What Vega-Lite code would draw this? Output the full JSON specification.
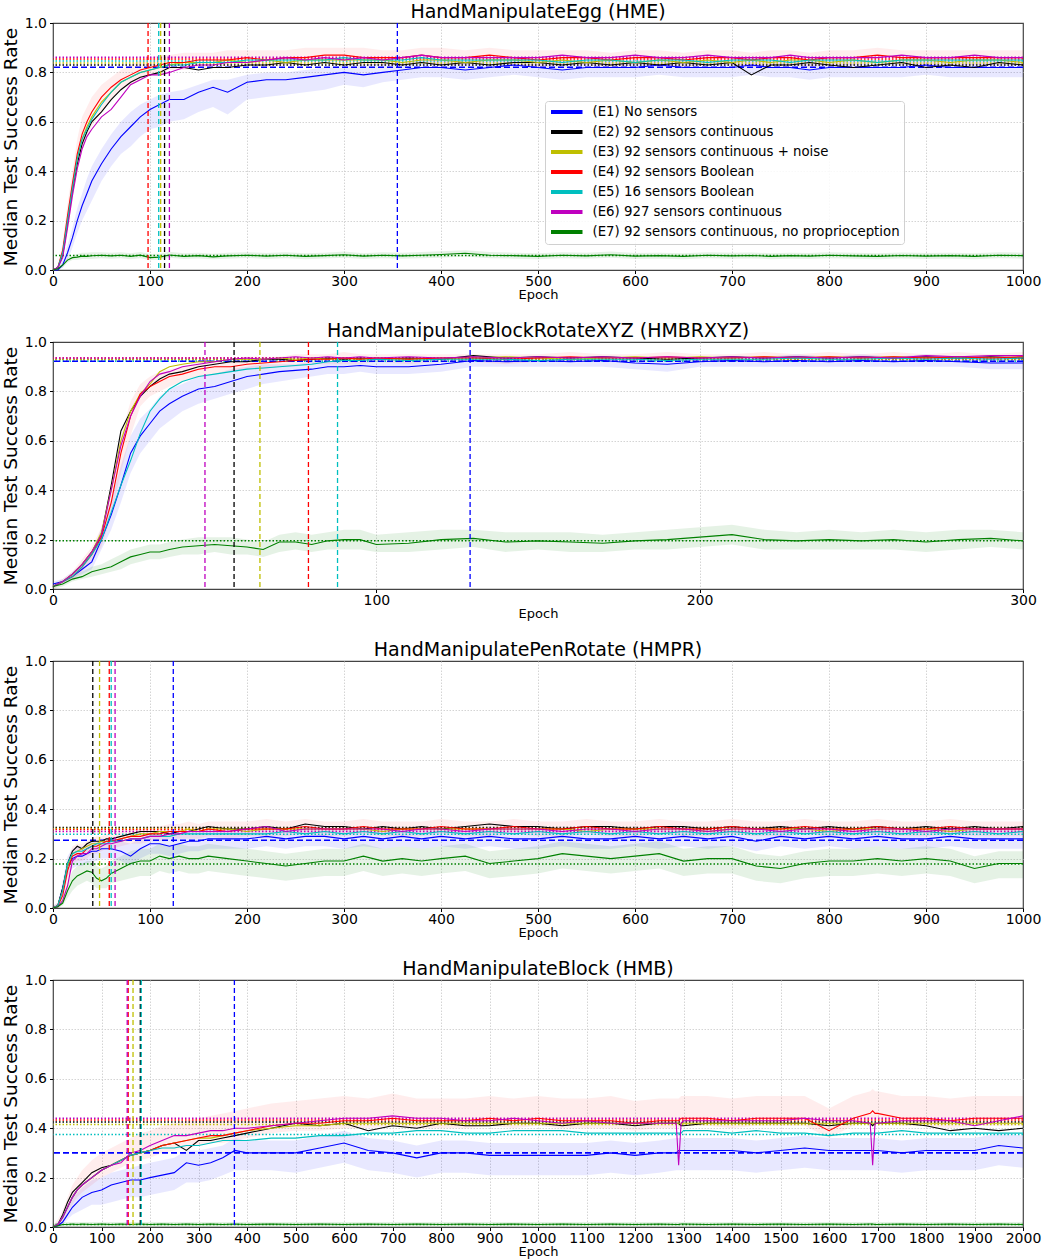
{
  "$schema": "https://vega.github.io/schema/vega-lite/v6.json",
  "background": "white",
  "padding": {"top": 2, "left": 0, "right": 0, "bottom": 0},
  "spacing": 18,
  "config": {
    "font": "DejaVu Sans",
    "view": {"stroke": "#444", "strokeWidth": 1.2},
    "axis": {"domain": false, "grid": true, "gridColor": "#cfcfcf", "gridDash": [1.5, 1.5], "gridWidth": 0.9, "tickColor": "#000", "tickSize": 3.5, "labelColor": "#000", "labelFontSize": 14, "labelFont": "DejaVu Sans", "titleFont": "DejaVu Sans", "titleFontWeight": "normal", "titleColor": "#000"},
    "axisX": {"titleFontSize": 13, "titlePadding": 0, "labelPadding": 1, "labelOverlap": false, "labelFlush": false},
    "axisY": {"titleFontSize": 18.5, "titlePadding": 4, "labelPadding": 3, "gridOpacity": {"condition": {"test": "datum.value == 0 || datum.value == 1", "value": 0}, "value": 1}},
    "title": {"font": "DejaVu Sans", "fontSize": 19, "fontWeight": "normal", "color": "#000", "offset": -6}
  },
  "resolve": {"scale": {"stroke": "independent", "x": "independent"}, "legend": {"stroke": "independent"}},
  "datasets": {
    "hmeR": [
      {"s": "E1", "t": 355, "f": 0.821}, {"s": "E2", "t": 115, "f": 0.83}, {"s": "E3", "t": 111, "f": 0.838}, {"s": "E4", "t": 98, "f": 0.854},
      {"s": "E5", "t": 109, "f": 0.846}, {"s": "E6", "t": 120, "f": 0.861}, {"s": "E7", "f": 0.059}
    ],
    "hmbrR": [
      {"s": "E1", "t": 129, "f": 0.922}, {"s": "E2", "t": 56, "f": 0.929}, {"s": "E3", "t": 64, "f": 0.929}, {"s": "E4", "t": 79, "f": 0.935},
      {"s": "E5", "t": 88, "f": 0.922}, {"s": "E6", "t": 47, "f": 0.935}, {"s": "E7", "f": 0.195}
    ],
    "hmprR": [
      {"s": "E1", "t": 124, "f": 0.274}, {"s": "E2", "t": 41, "f": 0.326}, {"s": "E3", "t": 48, "f": 0.322}, {"s": "E4", "t": 58, "f": 0.318},
      {"s": "E5", "t": 60, "f": 0.299}, {"s": "E6", "t": 64, "f": 0.31}, {"s": "E7", "f": 0.178}
    ],
    "hmbR": [
      {"s": "E1", "t": 374, "f": 0.3}, {"s": "E2", "t": 180, "f": 0.425}, {"s": "E3", "t": 165, "f": 0.415}, {"s": "E4", "t": 155, "f": 0.433},
      {"s": "E5", "t": 182, "f": 0.375}, {"s": "E6", "t": 153, "f": 0.44}, {"s": "E7", "f": 0.01}
    ],
    "hme": [
      {"x": 0, "E1": 0, "E2": 0, "E3": 0, "E4": 0, "E5": 0, "E6": 0, "E7": 0, "l1": 0, "h1": 0, "l4": 0, "h4": 0, "l7": 0, "h7": 0},
      {"x": 5, "E1": 0, "E2": 0.01, "E3": 0.01, "E4": 0.01, "E5": 0.01, "E6": 0.01, "E7": 0.005, "l1": 0, "h1": 0.01, "l4": 0, "h4": 0.02, "l7": 0, "h7": 0.01},
      {"x": 10, "E1": 0.02, "E2": 0.06, "E3": 0.07, "E4": 0.08, "E5": 0.07, "E6": 0.05, "E7": 0.02, "l1": 0.01, "h1": 0.04, "l4": 0.05, "h4": 0.11, "l7": 0.01, "h7": 0.03},
      {"x": 15, "E1": 0.07, "E2": 0.19, "E3": 0.2, "E4": 0.22, "E5": 0.2, "E6": 0.17, "E7": 0.04, "l1": 0.04, "h1": 0.1, "l4": 0.16, "h4": 0.27, "l7": 0.03, "h7": 0.05},
      {"x": 20, "E1": 0.13, "E2": 0.32, "E3": 0.33, "E4": 0.35, "E5": 0.33, "E6": 0.3, "E7": 0.05, "l1": 0.09, "h1": 0.17, "l4": 0.28, "h4": 0.4, "l7": 0.04, "h7": 0.06},
      {"x": 25, "E1": 0.2, "E2": 0.43, "E3": 0.45, "E4": 0.47, "E5": 0.45, "E6": 0.41, "E7": 0.052, "l1": 0.15, "h1": 0.25, "l4": 0.4, "h4": 0.53, "l7": 0.04, "h7": 0.065},
      {"x": 30, "E1": 0.26, "E2": 0.51, "E3": 0.53, "E4": 0.55, "E5": 0.53, "E6": 0.49, "E7": 0.056, "l1": 0.2, "h1": 0.31, "l4": 0.48, "h4": 0.62, "l7": 0.045, "h7": 0.07},
      {"x": 35, "E1": 0.31, "E2": 0.56, "E3": 0.58, "E4": 0.6, "E5": 0.57, "E6": 0.54, "E7": 0.055, "l1": 0.24, "h1": 0.37, "l4": 0.54, "h4": 0.66, "l7": 0.045, "h7": 0.07},
      {"x": 40, "E1": 0.36, "E2": 0.6, "E3": 0.62, "E4": 0.64, "E5": 0.61, "E6": 0.57, "E7": 0.058, "l1": 0.28, "h1": 0.42, "l4": 0.58, "h4": 0.7, "l7": 0.045, "h7": 0.072},
      {"x": 50, "E1": 0.43, "E2": 0.64, "E3": 0.68, "E4": 0.7, "E5": 0.67, "E6": 0.62, "E7": 0.06, "l1": 0.36, "h1": 0.49, "l4": 0.64, "h4": 0.75, "l7": 0.048, "h7": 0.072},
      {"x": 60, "E1": 0.49, "E2": 0.69, "E3": 0.72, "E4": 0.74, "E5": 0.72, "E6": 0.65, "E7": 0.057, "l1": 0.42, "h1": 0.55, "l4": 0.69, "h4": 0.78, "l7": 0.046, "h7": 0.07},
      {"x": 70, "E1": 0.54, "E2": 0.73, "E3": 0.76, "E4": 0.77, "E5": 0.76, "E6": 0.7, "E7": 0.06, "l1": 0.47, "h1": 0.6, "l4": 0.73, "h4": 0.81, "l7": 0.048, "h7": 0.072},
      {"x": 80, "E1": 0.58, "E2": 0.76, "E3": 0.78, "E4": 0.79, "E5": 0.78, "E6": 0.75, "E7": 0.055, "l1": 0.5, "h1": 0.64, "l4": 0.75, "h4": 0.83, "l7": 0.044, "h7": 0.068},
      {"x": 90, "E1": 0.62, "E2": 0.78, "E3": 0.8, "E4": 0.81, "E5": 0.8, "E6": 0.77, "E7": 0.06, "l1": 0.54, "h1": 0.67, "l4": 0.77, "h4": 0.85, "l7": 0.048, "h7": 0.073},
      {"x": 100, "E1": 0.65, "E2": 0.79, "E3": 0.81, "E4": 0.82, "E5": 0.81, "E6": 0.79, "E7": 0.05, "l1": 0.57, "h1": 0.69, "l4": 0.79, "h4": 0.86, "l7": 0.04, "h7": 0.065},
      {"x": 110, "E1": 0.67, "E2": 0.8, "E3": 0.82, "E4": 0.83, "E5": 0.82, "E6": 0.79, "E7": 0.052, "l1": 0.58, "h1": 0.71, "l4": 0.8, "h4": 0.87, "l7": 0.042, "h7": 0.066},
      {"x": 120, "E1": 0.69, "E2": 0.82, "E3": 0.83, "E4": 0.84, "E5": 0.83, "E6": 0.8, "E7": 0.061, "l1": 0.6, "h1": 0.72, "l4": 0.81, "h4": 0.87, "l7": 0.05, "h7": 0.074},
      {"x": 135, "E1": 0.69, "E2": 0.82, "E3": 0.84, "E4": 0.84, "E5": 0.83, "E6": 0.82, "E7": 0.055, "l1": 0.61, "h1": 0.73, "l4": 0.81, "h4": 0.88, "l7": 0.045, "h7": 0.068},
      {"x": 150, "E1": 0.72, "E2": 0.81, "E3": 0.84, "E4": 0.85, "E5": 0.84, "E6": 0.83, "E7": 0.058, "l1": 0.64, "h1": 0.75, "l4": 0.82, "h4": 0.88, "l7": 0.047, "h7": 0.07},
      {"x": 165, "E1": 0.74, "E2": 0.82, "E3": 0.84, "E4": 0.85, "E5": 0.84, "E6": 0.83, "E7": 0.053, "l1": 0.66, "h1": 0.77, "l4": 0.82, "h4": 0.88, "l7": 0.044, "h7": 0.066},
      {"x": 180, "E1": 0.72, "E2": 0.82, "E3": 0.85, "E4": 0.85, "E5": 0.84, "E6": 0.84, "E7": 0.057, "l1": 0.63, "h1": 0.77, "l4": 0.82, "h4": 0.89, "l7": 0.046, "h7": 0.07},
      {"x": 200, "E1": 0.76, "E2": 0.83, "E3": 0.84, "E4": 0.86, "E5": 0.85, "E6": 0.84, "E7": 0.06, "l1": 0.69, "h1": 0.79, "l4": 0.83, "h4": 0.89, "l7": 0.049, "h7": 0.072},
      {"x": 220, "E1": 0.77, "E2": 0.83, "E3": 0.85, "E4": 0.85, "E5": 0.85, "E6": 0.85, "E7": 0.056, "l1": 0.7, "h1": 0.8, "l4": 0.82, "h4": 0.89, "l7": 0.045, "h7": 0.069},
      {"x": 240, "E1": 0.77, "E2": 0.84, "E3": 0.84, "E4": 0.86, "E5": 0.85, "E6": 0.86, "E7": 0.06, "l1": 0.71, "h1": 0.8, "l4": 0.83, "h4": 0.89, "l7": 0.048, "h7": 0.072},
      {"x": 260, "E1": 0.78, "E2": 0.83, "E3": 0.85, "E4": 0.86, "E5": 0.85, "E6": 0.85, "E7": 0.055, "l1": 0.72, "h1": 0.81, "l4": 0.83, "h4": 0.9, "l7": 0.044, "h7": 0.068},
      {"x": 280, "E1": 0.79, "E2": 0.84, "E3": 0.85, "E4": 0.87, "E5": 0.85, "E6": 0.86, "E7": 0.058, "l1": 0.73, "h1": 0.82, "l4": 0.84, "h4": 0.9, "l7": 0.047, "h7": 0.07},
      {"x": 300, "E1": 0.8, "E2": 0.83, "E3": 0.85, "E4": 0.87, "E5": 0.86, "E6": 0.85, "E7": 0.062, "l1": 0.75, "h1": 0.83, "l4": 0.84, "h4": 0.9, "l7": 0.05, "h7": 0.075},
      {"x": 320, "E1": 0.79, "E2": 0.84, "E3": 0.85, "E4": 0.86, "E5": 0.85, "E6": 0.86, "E7": 0.056, "l1": 0.74, "h1": 0.83, "l4": 0.83, "h4": 0.9, "l7": 0.045, "h7": 0.068},
      {"x": 340, "E1": 0.8, "E2": 0.84, "E3": 0.85, "E4": 0.86, "E5": 0.85, "E6": 0.85, "E7": 0.06, "l1": 0.76, "h1": 0.84, "l4": 0.83, "h4": 0.89, "l7": 0.048, "h7": 0.072},
      {"x": 360, "E1": 0.81, "E2": 0.83, "E3": 0.84, "E4": 0.86, "E5": 0.85, "E6": 0.86, "E7": 0.057, "l1": 0.77, "h1": 0.84, "l4": 0.83, "h4": 0.89, "l7": 0.046, "h7": 0.07},
      {"x": 380, "E1": 0.82, "E2": 0.84, "E3": 0.85, "E4": 0.87, "E5": 0.86, "E6": 0.87, "E7": 0.06, "l1": 0.78, "h1": 0.85, "l4": 0.84, "h4": 0.9, "l7": 0.048, "h7": 0.073},
      {"x": 400, "E1": 0.82, "E2": 0.83, "E3": 0.85, "E4": 0.86, "E5": 0.85, "E6": 0.86, "E7": 0.063, "l1": 0.78, "h1": 0.85, "l4": 0.83, "h4": 0.9, "l7": 0.05, "h7": 0.076},
      {"x": 425, "E1": 0.81, "E2": 0.84, "E3": 0.84, "E4": 0.86, "E5": 0.85, "E6": 0.86, "E7": 0.068, "l1": 0.77, "h1": 0.85, "l4": 0.83, "h4": 0.89, "l7": 0.055, "h7": 0.08},
      {"x": 450, "E1": 0.82, "E2": 0.83, "E3": 0.85, "E4": 0.87, "E5": 0.85, "E6": 0.86, "E7": 0.06, "l1": 0.78, "h1": 0.85, "l4": 0.84, "h4": 0.9, "l7": 0.048, "h7": 0.073},
      {"x": 475, "E1": 0.83, "E2": 0.84, "E3": 0.85, "E4": 0.86, "E5": 0.85, "E6": 0.86, "E7": 0.058, "l1": 0.79, "h1": 0.86, "l4": 0.83, "h4": 0.89, "l7": 0.046, "h7": 0.07},
      {"x": 500, "E1": 0.82, "E2": 0.84, "E3": 0.84, "E4": 0.85, "E5": 0.85, "E6": 0.86, "E7": 0.055, "l1": 0.78, "h1": 0.85, "l4": 0.82, "h4": 0.89, "l7": 0.044, "h7": 0.068},
      {"x": 525, "E1": 0.81, "E2": 0.83, "E3": 0.85, "E4": 0.86, "E5": 0.84, "E6": 0.87, "E7": 0.06, "l1": 0.77, "h1": 0.85, "l4": 0.83, "h4": 0.89, "l7": 0.048, "h7": 0.072},
      {"x": 550, "E1": 0.82, "E2": 0.84, "E3": 0.84, "E4": 0.86, "E5": 0.85, "E6": 0.86, "E7": 0.057, "l1": 0.78, "h1": 0.85, "l4": 0.83, "h4": 0.89, "l7": 0.046, "h7": 0.07},
      {"x": 575, "E1": 0.82, "E2": 0.83, "E3": 0.85, "E4": 0.85, "E5": 0.85, "E6": 0.86, "E7": 0.062, "l1": 0.78, "h1": 0.85, "l4": 0.82, "h4": 0.88, "l7": 0.05, "h7": 0.075},
      {"x": 600, "E1": 0.82, "E2": 0.84, "E3": 0.84, "E4": 0.86, "E5": 0.84, "E6": 0.87, "E7": 0.056, "l1": 0.78, "h1": 0.85, "l4": 0.83, "h4": 0.89, "l7": 0.045, "h7": 0.069},
      {"x": 625, "E1": 0.83, "E2": 0.83, "E3": 0.85, "E4": 0.86, "E5": 0.85, "E6": 0.86, "E7": 0.058, "l1": 0.79, "h1": 0.86, "l4": 0.83, "h4": 0.89, "l7": 0.046, "h7": 0.07},
      {"x": 650, "E1": 0.82, "E2": 0.84, "E3": 0.84, "E4": 0.85, "E5": 0.85, "E6": 0.86, "E7": 0.055, "l1": 0.78, "h1": 0.85, "l4": 0.82, "h4": 0.88, "l7": 0.044, "h7": 0.068},
      {"x": 675, "E1": 0.82, "E2": 0.83, "E3": 0.85, "E4": 0.86, "E5": 0.84, "E6": 0.87, "E7": 0.06, "l1": 0.78, "h1": 0.85, "l4": 0.83, "h4": 0.89, "l7": 0.048, "h7": 0.072},
      {"x": 700, "E1": 0.82, "E2": 0.84, "E3": 0.84, "E4": 0.86, "E5": 0.85, "E6": 0.86, "E7": 0.057, "l1": 0.78, "h1": 0.85, "l4": 0.83, "h4": 0.89, "l7": 0.046, "h7": 0.07},
      {"x": 720, "E1": 0.83, "E2": 0.79, "E3": 0.85, "E4": 0.85, "E5": 0.85, "E6": 0.86, "E7": 0.059, "l1": 0.79, "h1": 0.86, "l4": 0.82, "h4": 0.88, "l7": 0.047, "h7": 0.071},
      {"x": 740, "E1": 0.82, "E2": 0.83, "E3": 0.84, "E4": 0.86, "E5": 0.85, "E6": 0.86, "E7": 0.055, "l1": 0.78, "h1": 0.85, "l4": 0.83, "h4": 0.89, "l7": 0.044, "h7": 0.068},
      {"x": 760, "E1": 0.82, "E2": 0.83, "E3": 0.85, "E4": 0.86, "E5": 0.84, "E6": 0.87, "E7": 0.058, "l1": 0.78, "h1": 0.85, "l4": 0.83, "h4": 0.89, "l7": 0.046, "h7": 0.07},
      {"x": 780, "E1": 0.81, "E2": 0.84, "E3": 0.85, "E4": 0.85, "E5": 0.85, "E6": 0.86, "E7": 0.056, "l1": 0.77, "h1": 0.85, "l4": 0.82, "h4": 0.88, "l7": 0.045, "h7": 0.069},
      {"x": 800, "E1": 0.82, "E2": 0.83, "E3": 0.84, "E4": 0.86, "E5": 0.85, "E6": 0.86, "E7": 0.06, "l1": 0.78, "h1": 0.85, "l4": 0.83, "h4": 0.89, "l7": 0.048, "h7": 0.072},
      {"x": 825, "E1": 0.82, "E2": 0.82, "E3": 0.85, "E4": 0.86, "E5": 0.85, "E6": 0.86, "E7": 0.057, "l1": 0.78, "h1": 0.85, "l4": 0.83, "h4": 0.89, "l7": 0.046, "h7": 0.07},
      {"x": 850, "E1": 0.82, "E2": 0.83, "E3": 0.84, "E4": 0.87, "E5": 0.84, "E6": 0.86, "E7": 0.055, "l1": 0.78, "h1": 0.85, "l4": 0.84, "h4": 0.9, "l7": 0.044, "h7": 0.068},
      {"x": 875, "E1": 0.82, "E2": 0.84, "E3": 0.85, "E4": 0.86, "E5": 0.85, "E6": 0.87, "E7": 0.059, "l1": 0.78, "h1": 0.85, "l4": 0.83, "h4": 0.89, "l7": 0.047, "h7": 0.071},
      {"x": 900, "E1": 0.83, "E2": 0.82, "E3": 0.85, "E4": 0.86, "E5": 0.85, "E6": 0.86, "E7": 0.056, "l1": 0.79, "h1": 0.86, "l4": 0.83, "h4": 0.89, "l7": 0.045, "h7": 0.069},
      {"x": 925, "E1": 0.82, "E2": 0.83, "E3": 0.84, "E4": 0.86, "E5": 0.85, "E6": 0.86, "E7": 0.058, "l1": 0.78, "h1": 0.85, "l4": 0.83, "h4": 0.89, "l7": 0.046, "h7": 0.07},
      {"x": 950, "E1": 0.82, "E2": 0.82, "E3": 0.85, "E4": 0.86, "E5": 0.85, "E6": 0.87, "E7": 0.055, "l1": 0.78, "h1": 0.85, "l4": 0.83, "h4": 0.89, "l7": 0.044, "h7": 0.068},
      {"x": 975, "E1": 0.82, "E2": 0.84, "E3": 0.85, "E4": 0.86, "E5": 0.85, "E6": 0.86, "E7": 0.06, "l1": 0.78, "h1": 0.85, "l4": 0.83, "h4": 0.89, "l7": 0.048, "h7": 0.072},
      {"x": 1000, "E1": 0.82, "E2": 0.83, "E3": 0.84, "E4": 0.86, "E5": 0.85, "E6": 0.86, "E7": 0.058, "l1": 0.78, "h1": 0.85, "l4": 0.83, "h4": 0.89, "l7": 0.046, "h7": 0.07}
    ],
    "hmbr": [
      {"x": 0, "E1": 0.02, "E2": 0.01, "E3": 0.01, "E4": 0.01, "E5": 0.01, "E6": 0.01, "E7": 0.01, "l1": 0.01, "h1": 0.03, "l4": 0, "h4": 0.02, "l7": 0, "h7": 0.02},
      {"x": 3, "E1": 0.03, "E2": 0.03, "E3": 0.03, "E4": 0.03, "E5": 0.03, "E6": 0.03, "E7": 0.02, "l1": 0.02, "h1": 0.04, "l4": 0.02, "h4": 0.04, "l7": 0.01, "h7": 0.03},
      {"x": 6, "E1": 0.05, "E2": 0.06, "E3": 0.06, "E4": 0.05, "E5": 0.05, "E6": 0.06, "E7": 0.04, "l1": 0.04, "h1": 0.07, "l4": 0.04, "h4": 0.07, "l7": 0.03, "h7": 0.05},
      {"x": 9, "E1": 0.08, "E2": 0.1, "E3": 0.1, "E4": 0.09, "E5": 0.09, "E6": 0.1, "E7": 0.05, "l1": 0.06, "h1": 0.1, "l4": 0.07, "h4": 0.12, "l7": 0.04, "h7": 0.07},
      {"x": 12, "E1": 0.11, "E2": 0.15, "E3": 0.15, "E4": 0.14, "E5": 0.14, "E6": 0.15, "E7": 0.07, "l1": 0.08, "h1": 0.14, "l4": 0.11, "h4": 0.17, "l7": 0.05, "h7": 0.09},
      {"x": 15, "E1": 0.2, "E2": 0.22, "E3": 0.23, "E4": 0.21, "E5": 0.2, "E6": 0.22, "E7": 0.08, "l1": 0.16, "h1": 0.25, "l4": 0.17, "h4": 0.25, "l7": 0.06, "h7": 0.1},
      {"x": 18, "E1": 0.3, "E2": 0.42, "E3": 0.4, "E4": 0.35, "E5": 0.31, "E6": 0.4, "E7": 0.09, "l1": 0.24, "h1": 0.36, "l4": 0.3, "h4": 0.42, "l7": 0.07, "h7": 0.12},
      {"x": 21, "E1": 0.42, "E2": 0.64, "E3": 0.6, "E4": 0.55, "E5": 0.42, "E6": 0.58, "E7": 0.11, "l1": 0.35, "h1": 0.5, "l4": 0.47, "h4": 0.62, "l7": 0.08, "h7": 0.14},
      {"x": 24, "E1": 0.55, "E2": 0.72, "E3": 0.72, "E4": 0.7, "E5": 0.52, "E6": 0.7, "E7": 0.13, "l1": 0.47, "h1": 0.62, "l4": 0.62, "h4": 0.76, "l7": 0.1, "h7": 0.16},
      {"x": 27, "E1": 0.62, "E2": 0.78, "E3": 0.79, "E4": 0.79, "E5": 0.63, "E6": 0.78, "E7": 0.14, "l1": 0.55, "h1": 0.69, "l4": 0.74, "h4": 0.83, "l7": 0.11, "h7": 0.17},
      {"x": 30, "E1": 0.67, "E2": 0.82, "E3": 0.83, "E4": 0.82, "E5": 0.72, "E6": 0.84, "E7": 0.15, "l1": 0.6, "h1": 0.73, "l4": 0.78, "h4": 0.86, "l7": 0.12, "h7": 0.18},
      {"x": 33, "E1": 0.72, "E2": 0.85, "E3": 0.88, "E4": 0.84, "E5": 0.77, "E6": 0.87, "E7": 0.15, "l1": 0.65, "h1": 0.78, "l4": 0.8, "h4": 0.88, "l7": 0.12, "h7": 0.18},
      {"x": 36, "E1": 0.75, "E2": 0.87, "E3": 0.9, "E4": 0.86, "E5": 0.81, "E6": 0.88, "E7": 0.16, "l1": 0.68, "h1": 0.81, "l4": 0.82, "h4": 0.89, "l7": 0.13, "h7": 0.19},
      {"x": 40, "E1": 0.78, "E2": 0.88, "E3": 0.91, "E4": 0.87, "E5": 0.84, "E6": 0.9, "E7": 0.17, "l1": 0.72, "h1": 0.83, "l4": 0.84, "h4": 0.9, "l7": 0.14, "h7": 0.2},
      {"x": 45, "E1": 0.81, "E2": 0.9, "E3": 0.92, "E4": 0.89, "E5": 0.86, "E6": 0.91, "E7": 0.175, "l1": 0.75, "h1": 0.86, "l4": 0.86, "h4": 0.92, "l7": 0.14, "h7": 0.21},
      {"x": 50, "E1": 0.82, "E2": 0.91, "E3": 0.92, "E4": 0.9, "E5": 0.87, "E6": 0.92, "E7": 0.18, "l1": 0.77, "h1": 0.87, "l4": 0.87, "h4": 0.92, "l7": 0.15, "h7": 0.21},
      {"x": 55, "E1": 0.84, "E2": 0.92, "E3": 0.93, "E4": 0.9, "E5": 0.88, "E6": 0.93, "E7": 0.175, "l1": 0.79, "h1": 0.89, "l4": 0.88, "h4": 0.93, "l7": 0.14, "h7": 0.21},
      {"x": 60, "E1": 0.86, "E2": 0.92, "E3": 0.93, "E4": 0.91, "E5": 0.89, "E6": 0.935, "E7": 0.17, "l1": 0.81, "h1": 0.9, "l4": 0.89, "h4": 0.94, "l7": 0.14, "h7": 0.2},
      {"x": 65, "E1": 0.87, "E2": 0.93, "E3": 0.93, "E4": 0.915, "E5": 0.895, "E6": 0.93, "E7": 0.16, "l1": 0.83, "h1": 0.91, "l4": 0.89, "h4": 0.94, "l7": 0.13, "h7": 0.19},
      {"x": 70, "E1": 0.88, "E2": 0.93, "E3": 0.935, "E4": 0.92, "E5": 0.9, "E6": 0.935, "E7": 0.19, "l1": 0.84, "h1": 0.91, "l4": 0.9, "h4": 0.94, "l7": 0.15, "h7": 0.22},
      {"x": 75, "E1": 0.885, "E2": 0.925, "E3": 0.93, "E4": 0.925, "E5": 0.905, "E6": 0.94, "E7": 0.19, "l1": 0.85, "h1": 0.91, "l4": 0.9, "h4": 0.95, "l7": 0.16, "h7": 0.23},
      {"x": 80, "E1": 0.89, "E2": 0.93, "E3": 0.935, "E4": 0.93, "E5": 0.91, "E6": 0.935, "E7": 0.18, "l1": 0.86, "h1": 0.92, "l4": 0.91, "h4": 0.95, "l7": 0.15, "h7": 0.22},
      {"x": 85, "E1": 0.9, "E2": 0.935, "E3": 0.93, "E4": 0.93, "E5": 0.92, "E6": 0.94, "E7": 0.195, "l1": 0.87, "h1": 0.92, "l4": 0.91, "h4": 0.95, "l7": 0.16, "h7": 0.23},
      {"x": 90, "E1": 0.9, "E2": 0.93, "E3": 0.935, "E4": 0.935, "E5": 0.925, "E6": 0.935, "E7": 0.2, "l1": 0.87, "h1": 0.92, "l4": 0.91, "h4": 0.96, "l7": 0.16, "h7": 0.24},
      {"x": 95, "E1": 0.905, "E2": 0.935, "E3": 0.93, "E4": 0.93, "E5": 0.925, "E6": 0.94, "E7": 0.2, "l1": 0.88, "h1": 0.93, "l4": 0.91, "h4": 0.95, "l7": 0.16, "h7": 0.24},
      {"x": 100, "E1": 0.9, "E2": 0.93, "E3": 0.935, "E4": 0.935, "E5": 0.93, "E6": 0.935, "E7": 0.18, "l1": 0.87, "h1": 0.92, "l4": 0.92, "h4": 0.95, "l7": 0.15, "h7": 0.22},
      {"x": 110, "E1": 0.9, "E2": 0.935, "E3": 0.93, "E4": 0.93, "E5": 0.925, "E6": 0.94, "E7": 0.185, "l1": 0.87, "h1": 0.93, "l4": 0.91, "h4": 0.95, "l7": 0.15, "h7": 0.23},
      {"x": 120, "E1": 0.91, "E2": 0.93, "E3": 0.935, "E4": 0.935, "E5": 0.93, "E6": 0.935, "E7": 0.2, "l1": 0.88, "h1": 0.92, "l4": 0.92, "h4": 0.95, "l7": 0.16, "h7": 0.24},
      {"x": 130, "E1": 0.925, "E2": 0.945, "E3": 0.935, "E4": 0.935, "E5": 0.93, "E6": 0.94, "E7": 0.205, "l1": 0.9, "h1": 0.94, "l4": 0.92, "h4": 0.95, "l7": 0.17, "h7": 0.24},
      {"x": 140, "E1": 0.92, "E2": 0.935, "E3": 0.94, "E4": 0.93, "E5": 0.93, "E6": 0.935, "E7": 0.19, "l1": 0.9, "h1": 0.94, "l4": 0.91, "h4": 0.95, "l7": 0.15, "h7": 0.23},
      {"x": 150, "E1": 0.925, "E2": 0.94, "E3": 0.935, "E4": 0.935, "E5": 0.925, "E6": 0.94, "E7": 0.195, "l1": 0.9, "h1": 0.94, "l4": 0.92, "h4": 0.95, "l7": 0.16, "h7": 0.23},
      {"x": 160, "E1": 0.92, "E2": 0.935, "E3": 0.93, "E4": 0.94, "E5": 0.93, "E6": 0.935, "E7": 0.19, "l1": 0.9, "h1": 0.94, "l4": 0.92, "h4": 0.96, "l7": 0.15, "h7": 0.23},
      {"x": 170, "E1": 0.925, "E2": 0.94, "E3": 0.935, "E4": 0.935, "E5": 0.93, "E6": 0.94, "E7": 0.185, "l1": 0.9, "h1": 0.94, "l4": 0.92, "h4": 0.95, "l7": 0.15, "h7": 0.22},
      {"x": 180, "E1": 0.915, "E2": 0.935, "E3": 0.94, "E4": 0.935, "E5": 0.93, "E6": 0.935, "E7": 0.195, "l1": 0.89, "h1": 0.94, "l4": 0.92, "h4": 0.95, "l7": 0.16, "h7": 0.23},
      {"x": 190, "E1": 0.91, "E2": 0.93, "E3": 0.935, "E4": 0.94, "E5": 0.925, "E6": 0.94, "E7": 0.2, "l1": 0.88, "h1": 0.93, "l4": 0.92, "h4": 0.96, "l7": 0.16, "h7": 0.24},
      {"x": 200, "E1": 0.92, "E2": 0.935, "E3": 0.94, "E4": 0.935, "E5": 0.93, "E6": 0.935, "E7": 0.21, "l1": 0.9, "h1": 0.94, "l4": 0.92, "h4": 0.95, "l7": 0.17, "h7": 0.25},
      {"x": 210, "E1": 0.925, "E2": 0.94, "E3": 0.935, "E4": 0.935, "E5": 0.93, "E6": 0.94, "E7": 0.22, "l1": 0.9, "h1": 0.94, "l4": 0.92, "h4": 0.95, "l7": 0.18, "h7": 0.26},
      {"x": 220, "E1": 0.92, "E2": 0.935, "E3": 0.94, "E4": 0.94, "E5": 0.93, "E6": 0.935, "E7": 0.2, "l1": 0.9, "h1": 0.94, "l4": 0.92, "h4": 0.96, "l7": 0.16, "h7": 0.24},
      {"x": 230, "E1": 0.925, "E2": 0.94, "E3": 0.935, "E4": 0.935, "E5": 0.935, "E6": 0.94, "E7": 0.195, "l1": 0.9, "h1": 0.95, "l4": 0.92, "h4": 0.95, "l7": 0.16, "h7": 0.23},
      {"x": 240, "E1": 0.92, "E2": 0.935, "E3": 0.94, "E4": 0.94, "E5": 0.93, "E6": 0.935, "E7": 0.2, "l1": 0.9, "h1": 0.94, "l4": 0.92, "h4": 0.96, "l7": 0.16, "h7": 0.24},
      {"x": 250, "E1": 0.925, "E2": 0.94, "E3": 0.935, "E4": 0.935, "E5": 0.93, "E6": 0.94, "E7": 0.195, "l1": 0.9, "h1": 0.95, "l4": 0.92, "h4": 0.95, "l7": 0.16, "h7": 0.23},
      {"x": 260, "E1": 0.92, "E2": 0.935, "E3": 0.94, "E4": 0.94, "E5": 0.935, "E6": 0.935, "E7": 0.2, "l1": 0.9, "h1": 0.94, "l4": 0.92, "h4": 0.96, "l7": 0.16, "h7": 0.24},
      {"x": 270, "E1": 0.925, "E2": 0.94, "E3": 0.935, "E4": 0.935, "E5": 0.93, "E6": 0.945, "E7": 0.19, "l1": 0.9, "h1": 0.95, "l4": 0.92, "h4": 0.95, "l7": 0.15, "h7": 0.23},
      {"x": 280, "E1": 0.92, "E2": 0.935, "E3": 0.94, "E4": 0.94, "E5": 0.935, "E6": 0.94, "E7": 0.2, "l1": 0.9, "h1": 0.94, "l4": 0.92, "h4": 0.96, "l7": 0.16, "h7": 0.24},
      {"x": 290, "E1": 0.915, "E2": 0.94, "E3": 0.935, "E4": 0.935, "E5": 0.93, "E6": 0.945, "E7": 0.205, "l1": 0.89, "h1": 0.94, "l4": 0.92, "h4": 0.95, "l7": 0.17, "h7": 0.24},
      {"x": 300, "E1": 0.915, "E2": 0.935, "E3": 0.94, "E4": 0.94, "E5": 0.935, "E6": 0.945, "E7": 0.195, "l1": 0.89, "h1": 0.94, "l4": 0.92, "h4": 0.96, "l7": 0.16, "h7": 0.23}
    ],
    "hmpr": [
      {"x": 0, "E1": 0, "E2": 0, "E3": 0, "E4": 0, "E5": 0, "E6": 0, "E7": 0, "l1": 0, "h1": 0.01, "l4": 0, "h4": 0.01, "l7": 0, "h7": 0.01},
      {"x": 5, "E1": 0.01, "E2": 0.01, "E3": 0.01, "E4": 0.01, "E5": 0.01, "E6": 0.005, "E7": 0.005, "l1": 0, "h1": 0.02, "l4": 0, "h4": 0.02, "l7": 0, "h7": 0.01},
      {"x": 10, "E1": 0.08, "E2": 0.08, "E3": 0.07, "E4": 0.05, "E5": 0.07, "E6": 0.03, "E7": 0.02, "l1": 0.05, "h1": 0.11, "l4": 0.03, "h4": 0.08, "l7": 0.01, "h7": 0.04},
      {"x": 15, "E1": 0.17, "E2": 0.18, "E3": 0.17, "E4": 0.15, "E5": 0.18, "E6": 0.09, "E7": 0.07, "l1": 0.13, "h1": 0.21, "l4": 0.11, "h4": 0.19, "l7": 0.04, "h7": 0.1},
      {"x": 20, "E1": 0.2, "E2": 0.23, "E3": 0.22, "E4": 0.21, "E5": 0.22, "E6": 0.19, "E7": 0.11, "l1": 0.16, "h1": 0.24, "l4": 0.18, "h4": 0.25, "l7": 0.07, "h7": 0.15},
      {"x": 25, "E1": 0.21, "E2": 0.25, "E3": 0.23, "E4": 0.22, "E5": 0.23, "E6": 0.21, "E7": 0.13, "l1": 0.17, "h1": 0.25, "l4": 0.19, "h4": 0.26, "l7": 0.09, "h7": 0.17},
      {"x": 30, "E1": 0.21, "E2": 0.24, "E3": 0.24, "E4": 0.22, "E5": 0.23, "E6": 0.22, "E7": 0.14, "l1": 0.17, "h1": 0.25, "l4": 0.19, "h4": 0.26, "l7": 0.1, "h7": 0.18},
      {"x": 35, "E1": 0.22, "E2": 0.26, "E3": 0.25, "E4": 0.24, "E5": 0.24, "E6": 0.22, "E7": 0.15, "l1": 0.18, "h1": 0.26, "l4": 0.2, "h4": 0.27, "l7": 0.11, "h7": 0.19},
      {"x": 40, "E1": 0.23, "E2": 0.27, "E3": 0.26, "E4": 0.25, "E5": 0.25, "E6": 0.24, "E7": 0.145, "l1": 0.19, "h1": 0.27, "l4": 0.22, "h4": 0.28, "l7": 0.1, "h7": 0.19},
      {"x": 45, "E1": 0.23, "E2": 0.27, "E3": 0.26, "E4": 0.25, "E5": 0.26, "E6": 0.24, "E7": 0.12, "l1": 0.19, "h1": 0.27, "l4": 0.22, "h4": 0.29, "l7": 0.08, "h7": 0.17},
      {"x": 50, "E1": 0.24, "E2": 0.27, "E3": 0.27, "E4": 0.26, "E5": 0.26, "E6": 0.25, "E7": 0.11, "l1": 0.2, "h1": 0.28, "l4": 0.23, "h4": 0.29, "l7": 0.08, "h7": 0.16},
      {"x": 55, "E1": 0.24, "E2": 0.28, "E3": 0.27, "E4": 0.27, "E5": 0.26, "E6": 0.26, "E7": 0.12, "l1": 0.2, "h1": 0.28, "l4": 0.24, "h4": 0.3, "l7": 0.08, "h7": 0.17},
      {"x": 60, "E1": 0.24, "E2": 0.28, "E3": 0.27, "E4": 0.27, "E5": 0.27, "E6": 0.26, "E7": 0.14, "l1": 0.2, "h1": 0.28, "l4": 0.24, "h4": 0.3, "l7": 0.1, "h7": 0.19},
      {"x": 70, "E1": 0.23, "E2": 0.29, "E3": 0.28, "E4": 0.28, "E5": 0.27, "E6": 0.27, "E7": 0.16, "l1": 0.19, "h1": 0.27, "l4": 0.25, "h4": 0.31, "l7": 0.11, "h7": 0.21},
      {"x": 80, "E1": 0.21, "E2": 0.3, "E3": 0.29, "E4": 0.29, "E5": 0.28, "E6": 0.28, "E7": 0.18, "l1": 0.17, "h1": 0.26, "l4": 0.26, "h4": 0.32, "l7": 0.12, "h7": 0.23},
      {"x": 90, "E1": 0.24, "E2": 0.31, "E3": 0.3, "E4": 0.29, "E5": 0.28, "E6": 0.28, "E7": 0.19, "l1": 0.2, "h1": 0.28, "l4": 0.26, "h4": 0.32, "l7": 0.13, "h7": 0.24},
      {"x": 100, "E1": 0.26, "E2": 0.31, "E3": 0.3, "E4": 0.3, "E5": 0.29, "E6": 0.29, "E7": 0.19, "l1": 0.22, "h1": 0.3, "l4": 0.27, "h4": 0.33, "l7": 0.13, "h7": 0.24},
      {"x": 110, "E1": 0.26, "E2": 0.31, "E3": 0.31, "E4": 0.3, "E5": 0.29, "E6": 0.29, "E7": 0.21, "l1": 0.22, "h1": 0.3, "l4": 0.27, "h4": 0.33, "l7": 0.15, "h7": 0.26},
      {"x": 120, "E1": 0.25, "E2": 0.3, "E3": 0.31, "E4": 0.31, "E5": 0.29, "E6": 0.3, "E7": 0.2, "l1": 0.21, "h1": 0.29, "l4": 0.28, "h4": 0.34, "l7": 0.14, "h7": 0.25},
      {"x": 130, "E1": 0.26, "E2": 0.31, "E3": 0.31, "E4": 0.31, "E5": 0.3, "E6": 0.3, "E7": 0.21, "l1": 0.22, "h1": 0.3, "l4": 0.28, "h4": 0.34, "l7": 0.15, "h7": 0.26},
      {"x": 140, "E1": 0.27, "E2": 0.31, "E3": 0.32, "E4": 0.31, "E5": 0.3, "E6": 0.31, "E7": 0.2, "l1": 0.23, "h1": 0.31, "l4": 0.28, "h4": 0.35, "l7": 0.14, "h7": 0.25},
      {"x": 150, "E1": 0.27, "E2": 0.32, "E3": 0.31, "E4": 0.31, "E5": 0.3, "E6": 0.31, "E7": 0.2, "l1": 0.23, "h1": 0.31, "l4": 0.28, "h4": 0.34, "l7": 0.14, "h7": 0.25},
      {"x": 160, "E1": 0.28, "E2": 0.33, "E3": 0.32, "E4": 0.32, "E5": 0.3, "E6": 0.31, "E7": 0.21, "l1": 0.24, "h1": 0.32, "l4": 0.29, "h4": 0.35, "l7": 0.15, "h7": 0.26},
      {"x": 180, "E1": 0.28, "E2": 0.32, "E3": 0.32, "E4": 0.31, "E5": 0.3, "E6": 0.31, "E7": 0.2, "l1": 0.24, "h1": 0.32, "l4": 0.28, "h4": 0.35, "l7": 0.14, "h7": 0.25},
      {"x": 200, "E1": 0.28, "E2": 0.32, "E3": 0.31, "E4": 0.32, "E5": 0.3, "E6": 0.32, "E7": 0.19, "l1": 0.24, "h1": 0.32, "l4": 0.29, "h4": 0.35, "l7": 0.13, "h7": 0.24},
      {"x": 220, "E1": 0.29, "E2": 0.33, "E3": 0.32, "E4": 0.32, "E5": 0.3, "E6": 0.33, "E7": 0.18, "l1": 0.25, "h1": 0.33, "l4": 0.29, "h4": 0.36, "l7": 0.12, "h7": 0.23},
      {"x": 240, "E1": 0.28, "E2": 0.32, "E3": 0.32, "E4": 0.32, "E5": 0.31, "E6": 0.31, "E7": 0.17, "l1": 0.24, "h1": 0.32, "l4": 0.29, "h4": 0.35, "l7": 0.11, "h7": 0.22},
      {"x": 260, "E1": 0.29, "E2": 0.34, "E3": 0.32, "E4": 0.33, "E5": 0.3, "E6": 0.32, "E7": 0.18, "l1": 0.25, "h1": 0.33, "l4": 0.3, "h4": 0.36, "l7": 0.12, "h7": 0.23},
      {"x": 280, "E1": 0.29, "E2": 0.33, "E3": 0.32, "E4": 0.32, "E5": 0.31, "E6": 0.32, "E7": 0.19, "l1": 0.25, "h1": 0.33, "l4": 0.29, "h4": 0.35, "l7": 0.13, "h7": 0.24},
      {"x": 300, "E1": 0.28, "E2": 0.33, "E3": 0.32, "E4": 0.32, "E5": 0.3, "E6": 0.32, "E7": 0.19, "l1": 0.24, "h1": 0.32, "l4": 0.29, "h4": 0.35, "l7": 0.13, "h7": 0.24},
      {"x": 320, "E1": 0.29, "E2": 0.32, "E3": 0.32, "E4": 0.33, "E5": 0.31, "E6": 0.32, "E7": 0.21, "l1": 0.25, "h1": 0.33, "l4": 0.3, "h4": 0.36, "l7": 0.15, "h7": 0.26},
      {"x": 340, "E1": 0.28, "E2": 0.33, "E3": 0.31, "E4": 0.32, "E5": 0.3, "E6": 0.32, "E7": 0.19, "l1": 0.24, "h1": 0.32, "l4": 0.29, "h4": 0.35, "l7": 0.13, "h7": 0.24},
      {"x": 360, "E1": 0.29, "E2": 0.32, "E3": 0.32, "E4": 0.32, "E5": 0.31, "E6": 0.31, "E7": 0.2, "l1": 0.25, "h1": 0.33, "l4": 0.29, "h4": 0.35, "l7": 0.14, "h7": 0.25},
      {"x": 380, "E1": 0.28, "E2": 0.33, "E3": 0.32, "E4": 0.32, "E5": 0.3, "E6": 0.32, "E7": 0.19, "l1": 0.24, "h1": 0.32, "l4": 0.29, "h4": 0.35, "l7": 0.13, "h7": 0.24},
      {"x": 400, "E1": 0.29, "E2": 0.32, "E3": 0.32, "E4": 0.33, "E5": 0.31, "E6": 0.32, "E7": 0.2, "l1": 0.25, "h1": 0.33, "l4": 0.3, "h4": 0.36, "l7": 0.14, "h7": 0.25},
      {"x": 425, "E1": 0.28, "E2": 0.33, "E3": 0.32, "E4": 0.32, "E5": 0.3, "E6": 0.31, "E7": 0.21, "l1": 0.24, "h1": 0.32, "l4": 0.29, "h4": 0.35, "l7": 0.15, "h7": 0.26},
      {"x": 450, "E1": 0.29, "E2": 0.34, "E3": 0.32, "E4": 0.32, "E5": 0.31, "E6": 0.32, "E7": 0.18, "l1": 0.25, "h1": 0.33, "l4": 0.29, "h4": 0.35, "l7": 0.12, "h7": 0.23},
      {"x": 475, "E1": 0.28, "E2": 0.33, "E3": 0.32, "E4": 0.33, "E5": 0.3, "E6": 0.32, "E7": 0.19, "l1": 0.24, "h1": 0.32, "l4": 0.3, "h4": 0.36, "l7": 0.13, "h7": 0.24},
      {"x": 500, "E1": 0.28, "E2": 0.33, "E3": 0.32, "E4": 0.32, "E5": 0.31, "E6": 0.32, "E7": 0.2, "l1": 0.24, "h1": 0.32, "l4": 0.29, "h4": 0.35, "l7": 0.14, "h7": 0.25},
      {"x": 525, "E1": 0.29, "E2": 0.32, "E3": 0.32, "E4": 0.32, "E5": 0.3, "E6": 0.31, "E7": 0.22, "l1": 0.25, "h1": 0.33, "l4": 0.29, "h4": 0.35, "l7": 0.16, "h7": 0.27},
      {"x": 550, "E1": 0.28, "E2": 0.33, "E3": 0.31, "E4": 0.33, "E5": 0.31, "E6": 0.32, "E7": 0.21, "l1": 0.24, "h1": 0.32, "l4": 0.3, "h4": 0.36, "l7": 0.15, "h7": 0.26},
      {"x": 575, "E1": 0.28, "E2": 0.33, "E3": 0.32, "E4": 0.32, "E5": 0.3, "E6": 0.32, "E7": 0.2, "l1": 0.24, "h1": 0.32, "l4": 0.29, "h4": 0.35, "l7": 0.14, "h7": 0.25},
      {"x": 600, "E1": 0.29, "E2": 0.32, "E3": 0.32, "E4": 0.32, "E5": 0.31, "E6": 0.31, "E7": 0.21, "l1": 0.25, "h1": 0.33, "l4": 0.29, "h4": 0.35, "l7": 0.15, "h7": 0.26},
      {"x": 625, "E1": 0.28, "E2": 0.33, "E3": 0.32, "E4": 0.33, "E5": 0.3, "E6": 0.32, "E7": 0.22, "l1": 0.24, "h1": 0.32, "l4": 0.3, "h4": 0.36, "l7": 0.16, "h7": 0.27},
      {"x": 650, "E1": 0.29, "E2": 0.33, "E3": 0.32, "E4": 0.32, "E5": 0.31, "E6": 0.32, "E7": 0.19, "l1": 0.25, "h1": 0.33, "l4": 0.29, "h4": 0.35, "l7": 0.13, "h7": 0.24},
      {"x": 675, "E1": 0.28, "E2": 0.32, "E3": 0.31, "E4": 0.32, "E5": 0.3, "E6": 0.31, "E7": 0.2, "l1": 0.24, "h1": 0.32, "l4": 0.29, "h4": 0.35, "l7": 0.14, "h7": 0.25},
      {"x": 700, "E1": 0.29, "E2": 0.33, "E3": 0.32, "E4": 0.33, "E5": 0.31, "E6": 0.32, "E7": 0.2, "l1": 0.25, "h1": 0.33, "l4": 0.3, "h4": 0.36, "l7": 0.14, "h7": 0.25},
      {"x": 725, "E1": 0.27, "E2": 0.32, "E3": 0.32, "E4": 0.32, "E5": 0.3, "E6": 0.32, "E7": 0.17, "l1": 0.23, "h1": 0.31, "l4": 0.29, "h4": 0.35, "l7": 0.11, "h7": 0.22},
      {"x": 750, "E1": 0.29, "E2": 0.33, "E3": 0.32, "E4": 0.32, "E5": 0.31, "E6": 0.31, "E7": 0.16, "l1": 0.25, "h1": 0.33, "l4": 0.29, "h4": 0.35, "l7": 0.1, "h7": 0.21},
      {"x": 775, "E1": 0.28, "E2": 0.32, "E3": 0.32, "E4": 0.33, "E5": 0.3, "E6": 0.32, "E7": 0.18, "l1": 0.24, "h1": 0.32, "l4": 0.3, "h4": 0.36, "l7": 0.12, "h7": 0.23},
      {"x": 800, "E1": 0.29, "E2": 0.33, "E3": 0.31, "E4": 0.32, "E5": 0.31, "E6": 0.32, "E7": 0.19, "l1": 0.25, "h1": 0.33, "l4": 0.29, "h4": 0.35, "l7": 0.13, "h7": 0.24},
      {"x": 825, "E1": 0.28, "E2": 0.32, "E3": 0.32, "E4": 0.32, "E5": 0.3, "E6": 0.31, "E7": 0.19, "l1": 0.24, "h1": 0.32, "l4": 0.29, "h4": 0.35, "l7": 0.13, "h7": 0.24},
      {"x": 850, "E1": 0.29, "E2": 0.33, "E3": 0.32, "E4": 0.33, "E5": 0.31, "E6": 0.32, "E7": 0.2, "l1": 0.25, "h1": 0.33, "l4": 0.3, "h4": 0.36, "l7": 0.14, "h7": 0.25},
      {"x": 875, "E1": 0.28, "E2": 0.32, "E3": 0.32, "E4": 0.32, "E5": 0.3, "E6": 0.32, "E7": 0.19, "l1": 0.24, "h1": 0.32, "l4": 0.29, "h4": 0.35, "l7": 0.13, "h7": 0.24},
      {"x": 900, "E1": 0.28, "E2": 0.33, "E3": 0.32, "E4": 0.32, "E5": 0.31, "E6": 0.31, "E7": 0.2, "l1": 0.24, "h1": 0.32, "l4": 0.29, "h4": 0.35, "l7": 0.14, "h7": 0.25},
      {"x": 925, "E1": 0.29, "E2": 0.32, "E3": 0.31, "E4": 0.33, "E5": 0.3, "E6": 0.32, "E7": 0.19, "l1": 0.25, "h1": 0.33, "l4": 0.3, "h4": 0.36, "l7": 0.13, "h7": 0.24},
      {"x": 950, "E1": 0.28, "E2": 0.33, "E3": 0.32, "E4": 0.32, "E5": 0.31, "E6": 0.32, "E7": 0.16, "l1": 0.24, "h1": 0.32, "l4": 0.29, "h4": 0.35, "l7": 0.1, "h7": 0.21},
      {"x": 975, "E1": 0.28, "E2": 0.32, "E3": 0.32, "E4": 0.32, "E5": 0.3, "E6": 0.32, "E7": 0.18, "l1": 0.24, "h1": 0.32, "l4": 0.29, "h4": 0.35, "l7": 0.12, "h7": 0.23},
      {"x": 1000, "E1": 0.28, "E2": 0.33, "E3": 0.32, "E4": 0.32, "E5": 0.31, "E6": 0.32, "E7": 0.18, "l1": 0.24, "h1": 0.32, "l4": 0.29, "h4": 0.35, "l7": 0.12, "h7": 0.23}
    ],
    "hmb": [
      {"x": 0, "E1": 0, "E2": 0, "E3": 0, "E4": 0, "E5": 0, "E6": 0, "E7": 0, "l1": 0, "h1": 0.01, "l4": 0, "h4": 0.01, "l7": 0, "h7": 0.01},
      {"x": 10, "E1": 0.005, "E2": 0.01, "E3": 0.01, "E4": 0.01, "E5": 0.01, "E6": 0.01, "E7": 0.005, "l1": 0, "h1": 0.02, "l4": 0, "h4": 0.03, "l7": 0, "h7": 0.015},
      {"x": 20, "E1": 0.02, "E2": 0.05, "E3": 0.04, "E4": 0.04, "E5": 0.04, "E6": 0.04, "E7": 0.01, "l1": 0.01, "h1": 0.04, "l4": 0.02, "h4": 0.07, "l7": 0, "h7": 0.02},
      {"x": 30, "E1": 0.05, "E2": 0.1, "E3": 0.08, "E4": 0.08, "E5": 0.08, "E6": 0.08, "E7": 0.01, "l1": 0.03, "h1": 0.08, "l4": 0.06, "h4": 0.12, "l7": 0, "h7": 0.02},
      {"x": 40, "E1": 0.08, "E2": 0.14, "E3": 0.12, "E4": 0.12, "E5": 0.12, "E6": 0.12, "E7": 0.012, "l1": 0.05, "h1": 0.12, "l4": 0.09, "h4": 0.17, "l7": 0, "h7": 0.02},
      {"x": 50, "E1": 0.1, "E2": 0.16, "E3": 0.15, "E4": 0.15, "E5": 0.15, "E6": 0.15, "E7": 0.01, "l1": 0.06, "h1": 0.14, "l4": 0.12, "h4": 0.2, "l7": 0, "h7": 0.02},
      {"x": 60, "E1": 0.12, "E2": 0.18, "E3": 0.17, "E4": 0.17, "E5": 0.17, "E6": 0.17, "E7": 0.012, "l1": 0.07, "h1": 0.16, "l4": 0.14, "h4": 0.23, "l7": 0, "h7": 0.02},
      {"x": 80, "E1": 0.14, "E2": 0.22, "E3": 0.2, "E4": 0.2, "E5": 0.2, "E6": 0.2, "E7": 0.01, "l1": 0.09, "h1": 0.19, "l4": 0.17, "h4": 0.27, "l7": 0, "h7": 0.02},
      {"x": 100, "E1": 0.15, "E2": 0.24, "E3": 0.23, "E4": 0.23, "E5": 0.23, "E6": 0.23, "E7": 0.012, "l1": 0.09, "h1": 0.2, "l4": 0.2, "h4": 0.3, "l7": 0, "h7": 0.02},
      {"x": 120, "E1": 0.17, "E2": 0.25, "E3": 0.25, "E4": 0.25, "E5": 0.25, "E6": 0.25, "E7": 0.01, "l1": 0.1, "h1": 0.22, "l4": 0.22, "h4": 0.32, "l7": 0, "h7": 0.02},
      {"x": 140, "E1": 0.18, "E2": 0.27, "E3": 0.27, "E4": 0.27, "E5": 0.27, "E6": 0.26, "E7": 0.012, "l1": 0.11, "h1": 0.23, "l4": 0.24, "h4": 0.34, "l7": 0, "h7": 0.02},
      {"x": 160, "E1": 0.19, "E2": 0.29, "E3": 0.29, "E4": 0.29, "E5": 0.29, "E6": 0.3, "E7": 0.01, "l1": 0.12, "h1": 0.24, "l4": 0.26, "h4": 0.36, "l7": 0, "h7": 0.02},
      {"x": 180, "E1": 0.19, "E2": 0.3, "E3": 0.3, "E4": 0.3, "E5": 0.3, "E6": 0.31, "E7": 0.012, "l1": 0.12, "h1": 0.25, "l4": 0.27, "h4": 0.38, "l7": 0, "h7": 0.02},
      {"x": 200, "E1": 0.2, "E2": 0.31, "E3": 0.31, "E4": 0.31, "E5": 0.31, "E6": 0.33, "E7": 0.01, "l1": 0.13, "h1": 0.26, "l4": 0.28, "h4": 0.39, "l7": 0, "h7": 0.02},
      {"x": 225, "E1": 0.21, "E2": 0.33, "E3": 0.33, "E4": 0.33, "E5": 0.32, "E6": 0.35, "E7": 0.012, "l1": 0.14, "h1": 0.27, "l4": 0.3, "h4": 0.41, "l7": 0, "h7": 0.02},
      {"x": 250, "E1": 0.22, "E2": 0.34, "E3": 0.34, "E4": 0.34, "E5": 0.32, "E6": 0.37, "E7": 0.01, "l1": 0.15, "h1": 0.28, "l4": 0.31, "h4": 0.42, "l7": 0, "h7": 0.02},
      {"x": 275, "E1": 0.26, "E2": 0.31, "E3": 0.35, "E4": 0.35, "E5": 0.33, "E6": 0.37, "E7": 0.012, "l1": 0.18, "h1": 0.31, "l4": 0.32, "h4": 0.43, "l7": 0, "h7": 0.02},
      {"x": 300, "E1": 0.25, "E2": 0.35, "E3": 0.36, "E4": 0.36, "E5": 0.33, "E6": 0.38, "E7": 0.01, "l1": 0.18, "h1": 0.31, "l4": 0.33, "h4": 0.44, "l7": 0, "h7": 0.02},
      {"x": 325, "E1": 0.26, "E2": 0.35, "E3": 0.36, "E4": 0.37, "E5": 0.34, "E6": 0.39, "E7": 0.012, "l1": 0.19, "h1": 0.32, "l4": 0.34, "h4": 0.45, "l7": 0, "h7": 0.02},
      {"x": 350, "E1": 0.28, "E2": 0.36, "E3": 0.37, "E4": 0.37, "E5": 0.35, "E6": 0.39, "E7": 0.01, "l1": 0.21, "h1": 0.33, "l4": 0.34, "h4": 0.46, "l7": 0, "h7": 0.02},
      {"x": 375, "E1": 0.31, "E2": 0.37, "E3": 0.38, "E4": 0.38, "E5": 0.35, "E6": 0.4, "E7": 0.012, "l1": 0.23, "h1": 0.36, "l4": 0.35, "h4": 0.47, "l7": 0, "h7": 0.02},
      {"x": 400, "E1": 0.3, "E2": 0.38, "E3": 0.39, "E4": 0.39, "E5": 0.35, "E6": 0.4, "E7": 0.01, "l1": 0.23, "h1": 0.35, "l4": 0.36, "h4": 0.48, "l7": 0, "h7": 0.02},
      {"x": 450, "E1": 0.3, "E2": 0.4, "E3": 0.4, "E4": 0.41, "E5": 0.36, "E6": 0.41, "E7": 0.012, "l1": 0.23, "h1": 0.35, "l4": 0.38, "h4": 0.5, "l7": 0, "h7": 0.02},
      {"x": 500, "E1": 0.3, "E2": 0.42, "E3": 0.41, "E4": 0.42, "E5": 0.36, "E6": 0.42, "E7": 0.01, "l1": 0.22, "h1": 0.35, "l4": 0.39, "h4": 0.51, "l7": 0, "h7": 0.02},
      {"x": 550, "E1": 0.32, "E2": 0.41, "E3": 0.41, "E4": 0.42, "E5": 0.37, "E6": 0.43, "E7": 0.012, "l1": 0.24, "h1": 0.37, "l4": 0.39, "h4": 0.52, "l7": 0, "h7": 0.02},
      {"x": 600, "E1": 0.34, "E2": 0.42, "E3": 0.42, "E4": 0.43, "E5": 0.37, "E6": 0.44, "E7": 0.01, "l1": 0.26, "h1": 0.39, "l4": 0.4, "h4": 0.53, "l7": 0, "h7": 0.02},
      {"x": 650, "E1": 0.31, "E2": 0.39, "E3": 0.42, "E4": 0.43, "E5": 0.38, "E6": 0.44, "E7": 0.012, "l1": 0.23, "h1": 0.36, "l4": 0.4, "h4": 0.52, "l7": 0, "h7": 0.02},
      {"x": 700, "E1": 0.3, "E2": 0.41, "E3": 0.42, "E4": 0.44, "E5": 0.38, "E6": 0.45, "E7": 0.01, "l1": 0.22, "h1": 0.35, "l4": 0.41, "h4": 0.54, "l7": 0, "h7": 0.02},
      {"x": 750, "E1": 0.28, "E2": 0.4, "E3": 0.42, "E4": 0.43, "E5": 0.39, "E6": 0.44, "E7": 0.012, "l1": 0.2, "h1": 0.33, "l4": 0.4, "h4": 0.52, "l7": 0, "h7": 0.02},
      {"x": 800, "E1": 0.3, "E2": 0.42, "E3": 0.42, "E4": 0.43, "E5": 0.39, "E6": 0.44, "E7": 0.01, "l1": 0.22, "h1": 0.35, "l4": 0.4, "h4": 0.52, "l7": 0, "h7": 0.02},
      {"x": 850, "E1": 0.3, "E2": 0.41, "E3": 0.42, "E4": 0.43, "E5": 0.38, "E6": 0.43, "E7": 0.012, "l1": 0.22, "h1": 0.35, "l4": 0.4, "h4": 0.52, "l7": 0, "h7": 0.02},
      {"x": 900, "E1": 0.29, "E2": 0.41, "E3": 0.42, "E4": 0.44, "E5": 0.38, "E6": 0.43, "E7": 0.01, "l1": 0.21, "h1": 0.34, "l4": 0.41, "h4": 0.53, "l7": 0, "h7": 0.02},
      {"x": 950, "E1": 0.29, "E2": 0.42, "E3": 0.42, "E4": 0.43, "E5": 0.39, "E6": 0.44, "E7": 0.012, "l1": 0.21, "h1": 0.34, "l4": 0.4, "h4": 0.52, "l7": 0, "h7": 0.02},
      {"x": 1000, "E1": 0.29, "E2": 0.42, "E3": 0.42, "E4": 0.44, "E5": 0.39, "E6": 0.43, "E7": 0.01, "l1": 0.21, "h1": 0.34, "l4": 0.41, "h4": 0.53, "l7": 0, "h7": 0.02},
      {"x": 1050, "E1": 0.29, "E2": 0.41, "E3": 0.42, "E4": 0.43, "E5": 0.39, "E6": 0.42, "E7": 0.012, "l1": 0.21, "h1": 0.34, "l4": 0.4, "h4": 0.52, "l7": 0, "h7": 0.02},
      {"x": 1100, "E1": 0.29, "E2": 0.42, "E3": 0.42, "E4": 0.43, "E5": 0.38, "E6": 0.43, "E7": 0.01, "l1": 0.21, "h1": 0.34, "l4": 0.4, "h4": 0.52, "l7": 0, "h7": 0.02},
      {"x": 1150, "E1": 0.3, "E2": 0.42, "E3": 0.42, "E4": 0.43, "E5": 0.38, "E6": 0.42, "E7": 0.012, "l1": 0.22, "h1": 0.35, "l4": 0.4, "h4": 0.53, "l7": 0, "h7": 0.02},
      {"x": 1200, "E1": 0.29, "E2": 0.41, "E3": 0.42, "E4": 0.42, "E5": 0.38, "E6": 0.42, "E7": 0.01, "l1": 0.21, "h1": 0.34, "l4": 0.39, "h4": 0.51, "l7": 0, "h7": 0.02},
      {"x": 1250, "E1": 0.3, "E2": 0.42, "E3": 0.42, "E4": 0.43, "E5": 0.38, "E6": 0.42, "E7": 0.012, "l1": 0.22, "h1": 0.35, "l4": 0.4, "h4": 0.52, "l7": 0, "h7": 0.02},
      {"x": 1285, "E1": 0.3, "E2": 0.42, "E3": 0.42, "E4": 0.43, "E5": 0.38, "E6": 0.42, "E7": 0.01, "l1": 0.23, "h1": 0.36, "l4": 0.4, "h4": 0.52, "l7": 0, "h7": 0.02},
      {"x": 1290, "E1": 0.31, "E2": 0.42, "E3": 0.42, "E4": 0.43, "E5": 0.38, "E6": 0.25, "E7": 0.01, "l1": 0.23, "h1": 0.36, "l4": 0.4, "h4": 0.52, "l7": 0, "h7": 0.02},
      {"x": 1295, "E1": 0.31, "E2": 0.41, "E3": 0.42, "E4": 0.44, "E5": 0.38, "E6": 0.42, "E7": 0.012, "l1": 0.23, "h1": 0.36, "l4": 0.41, "h4": 0.53, "l7": 0, "h7": 0.02},
      {"x": 1300, "E1": 0.31, "E2": 0.41, "E3": 0.42, "E4": 0.44, "E5": 0.39, "E6": 0.43, "E7": 0.012, "l1": 0.23, "h1": 0.36, "l4": 0.41, "h4": 0.53, "l7": 0, "h7": 0.02},
      {"x": 1350, "E1": 0.31, "E2": 0.42, "E3": 0.42, "E4": 0.44, "E5": 0.39, "E6": 0.43, "E7": 0.01, "l1": 0.23, "h1": 0.36, "l4": 0.41, "h4": 0.53, "l7": 0, "h7": 0.02},
      {"x": 1400, "E1": 0.31, "E2": 0.42, "E3": 0.42, "E4": 0.43, "E5": 0.38, "E6": 0.43, "E7": 0.012, "l1": 0.23, "h1": 0.36, "l4": 0.4, "h4": 0.52, "l7": 0, "h7": 0.02},
      {"x": 1450, "E1": 0.3, "E2": 0.42, "E3": 0.42, "E4": 0.44, "E5": 0.39, "E6": 0.43, "E7": 0.01, "l1": 0.22, "h1": 0.35, "l4": 0.41, "h4": 0.53, "l7": 0, "h7": 0.02},
      {"x": 1500, "E1": 0.31, "E2": 0.42, "E3": 0.42, "E4": 0.44, "E5": 0.38, "E6": 0.43, "E7": 0.012, "l1": 0.23, "h1": 0.36, "l4": 0.41, "h4": 0.53, "l7": 0, "h7": 0.02},
      {"x": 1550, "E1": 0.32, "E2": 0.42, "E3": 0.42, "E4": 0.44, "E5": 0.38, "E6": 0.44, "E7": 0.01, "l1": 0.24, "h1": 0.37, "l4": 0.41, "h4": 0.53, "l7": 0, "h7": 0.02},
      {"x": 1600, "E1": 0.31, "E2": 0.41, "E3": 0.42, "E4": 0.39, "E5": 0.37, "E6": 0.43, "E7": 0.012, "l1": 0.23, "h1": 0.36, "l4": 0.36, "h4": 0.48, "l7": 0, "h7": 0.02},
      {"x": 1650, "E1": 0.31, "E2": 0.42, "E3": 0.42, "E4": 0.44, "E5": 0.38, "E6": 0.43, "E7": 0.01, "l1": 0.23, "h1": 0.36, "l4": 0.41, "h4": 0.53, "l7": 0, "h7": 0.02},
      {"x": 1685, "E1": 0.31, "E2": 0.42, "E3": 0.42, "E4": 0.46, "E5": 0.38, "E6": 0.42, "E7": 0.012, "l1": 0.23, "h1": 0.36, "l4": 0.43, "h4": 0.55, "l7": 0, "h7": 0.02},
      {"x": 1690, "E1": 0.31, "E2": 0.41, "E3": 0.42, "E4": 0.47, "E5": 0.38, "E6": 0.25, "E7": 0.012, "l1": 0.23, "h1": 0.36, "l4": 0.44, "h4": 0.56, "l7": 0, "h7": 0.02},
      {"x": 1695, "E1": 0.31, "E2": 0.42, "E3": 0.42, "E4": 0.46, "E5": 0.38, "E6": 0.42, "E7": 0.01, "l1": 0.23, "h1": 0.36, "l4": 0.43, "h4": 0.55, "l7": 0, "h7": 0.02},
      {"x": 1700, "E1": 0.31, "E2": 0.42, "E3": 0.42, "E4": 0.46, "E5": 0.38, "E6": 0.42, "E7": 0.01, "l1": 0.23, "h1": 0.36, "l4": 0.43, "h4": 0.55, "l7": 0, "h7": 0.02},
      {"x": 1750, "E1": 0.3, "E2": 0.42, "E3": 0.42, "E4": 0.44, "E5": 0.39, "E6": 0.43, "E7": 0.012, "l1": 0.22, "h1": 0.35, "l4": 0.41, "h4": 0.53, "l7": 0, "h7": 0.02},
      {"x": 1800, "E1": 0.31, "E2": 0.41, "E3": 0.42, "E4": 0.44, "E5": 0.38, "E6": 0.43, "E7": 0.01, "l1": 0.23, "h1": 0.36, "l4": 0.41, "h4": 0.53, "l7": 0, "h7": 0.02},
      {"x": 1850, "E1": 0.31, "E2": 0.39, "E3": 0.42, "E4": 0.43, "E5": 0.38, "E6": 0.43, "E7": 0.012, "l1": 0.23, "h1": 0.36, "l4": 0.4, "h4": 0.52, "l7": 0, "h7": 0.02},
      {"x": 1900, "E1": 0.31, "E2": 0.4, "E3": 0.42, "E4": 0.44, "E5": 0.38, "E6": 0.41, "E7": 0.01, "l1": 0.23, "h1": 0.36, "l4": 0.41, "h4": 0.53, "l7": 0, "h7": 0.02},
      {"x": 1950, "E1": 0.33, "E2": 0.39, "E3": 0.42, "E4": 0.44, "E5": 0.38, "E6": 0.43, "E7": 0.012, "l1": 0.25, "h1": 0.38, "l4": 0.41, "h4": 0.53, "l7": 0, "h7": 0.02},
      {"x": 2000, "E1": 0.32, "E2": 0.4, "E3": 0.42, "E4": 0.44, "E5": 0.38, "E6": 0.45, "E7": 0.01, "l1": 0.24, "h1": 0.37, "l4": 0.41, "h4": 0.53, "l7": 0, "h7": 0.02}
    ]
  },
  "vconcat": [
    {
      "title": "HandManipulateEgg (HME)",
      "width": 970, "height": 247,
      "data": {"name": "hme"},
      "layer": [
        {"mark": {"type": "area", "color": "#0000ff", "opacity": 0.09}, "encoding": {"x": {"field": "x", "type": "quantitative"}, "y": {"field": "l1", "type": "quantitative"}, "y2": {"field": "h1"}}},
        {"mark": {"type": "area", "color": "#ff0000", "opacity": 0.07}, "encoding": {"x": {"field": "x", "type": "quantitative"}, "y": {"field": "l4", "type": "quantitative"}, "y2": {"field": "h4"}}},
        {"mark": {"type": "area", "color": "#008000", "opacity": 0.1}, "encoding": {"x": {"field": "x", "type": "quantitative"}, "y": {"field": "l7", "type": "quantitative"}, "y2": {"field": "h7"}}},
        {"data": {"name": "hmeR"}, "transform": [{"filter": "datum.s != 'E1'"}], "mark": {"type": "rule", "strokeDash": [1.5, 2], "strokeWidth": 1.5},
         "encoding": {"y": {"field": "f", "type": "quantitative"}, "stroke": {"field": "s", "type": "nominal", "scale": {"domain": ["E1", "E2", "E3", "E4", "E5", "E6", "E7"], "range": ["#0000ff", "#000000", "#bfbf00", "#ff0000", "#00bfbf", "#bf00bf", "#008000"]}}}},
        {"data": {"name": "hmeR"}, "transform": [{"filter": "datum.s == 'E1'"}], "mark": {"type": "rule", "strokeDash": [6, 3], "strokeWidth": 1.6},
         "encoding": {"y": {"field": "f", "type": "quantitative"}, "stroke": {"field": "s", "type": "nominal", "scale": {"domain": ["E1", "E2", "E3", "E4", "E5", "E6", "E7"], "range": ["#0000ff", "#000000", "#bfbf00", "#ff0000", "#00bfbf", "#bf00bf", "#008000"]}}}},
        {"transform": [{"fold": ["E1", "E2", "E3", "E4", "E5", "E6", "E7"], "as": ["s", "y"]}], "mark": {"type": "line", "strokeWidth": 1.1},
         "encoding": {
           "x": {"field": "x", "type": "quantitative", "scale": {"domain": [0, 1000], "nice": false, "zero": false}, "axis": {"title": "Epoch", "values": [0, 100, 200, 300, 400, 500, 600, 700, 800, 900, 1000], "format": "d", "gridOpacity": {"condition": {"test": "datum.value == 0 || datum.value == 1000", "value": 0}, "value": 1}}},
           "y": {"field": "y", "type": "quantitative", "scale": {"domain": [0, 1], "nice": false}, "axis": {"title": "Median Test Success Rate", "values": [0, 0.2, 0.4, 0.6, 0.8, 1], "format": ".1f"}},
           "stroke": {"field": "s", "type": "nominal", "scale": {"domain": ["E1", "E2", "E3", "E4", "E5", "E6", "E7"], "range": ["#0000ff", "#000000", "#bfbf00", "#ff0000", "#00bfbf", "#bf00bf", "#008000"]},
             "legend": {"title": null, "orient": "none", "legendX": 492, "legendY": 78, "symbolType": "M-1,0H5.3", "symbolStrokeWidth": 4, "symbolSize": 100, "labelFontSize": 13.3, "labelFont": "DejaVu Sans", "labelColor": "#000", "labelOffset": 29.5, "rowPadding": 4, "fillColor": "rgba(255,255,255,0.85)", "strokeColor": "#d0d0d0", "cornerRadius": 3, "padding": 4, "labelLimit": 400,
               "labelExpr": "{'E1': '(E1) No sensors', 'E2': '(E2) 92 sensors continuous', 'E3': '(E3) 92 sensors continuous + noise', 'E4': '(E4) 92 sensors Boolean', 'E5': '(E5) 16 sensors Boolean', 'E6': '(E6) 927 sensors continuous', 'E7': '(E7) 92 sensors continuous, no proprioception'}[datum.label]"}}
         }},
        {"data": {"name": "hmeR"}, "transform": [{"filter": "isValid(datum.t)"}], "mark": {"type": "rule", "strokeDash": [5, 3], "strokeWidth": 1.3},
         "encoding": {"x": {"field": "t", "type": "quantitative"}, "stroke": {"field": "s", "type": "nominal", "scale": {"domain": ["E1", "E2", "E3", "E4", "E5", "E6", "E7"], "range": ["#0000ff", "#000000", "#bfbf00", "#ff0000", "#00bfbf", "#bf00bf", "#008000"]}}}}
      ]
    },
    {
      "title": "HandManipulateBlockRotateXYZ (HMBRXYZ)",
      "width": 970, "height": 247,
      "data": {"name": "hmbr"},
      "layer": [
        {"mark": {"type": "area", "color": "#0000ff", "opacity": 0.09}, "encoding": {"x": {"field": "x", "type": "quantitative"}, "y": {"field": "l1", "type": "quantitative"}, "y2": {"field": "h1"}}},
        {"mark": {"type": "area", "color": "#ff0000", "opacity": 0.07}, "encoding": {"x": {"field": "x", "type": "quantitative"}, "y": {"field": "l4", "type": "quantitative"}, "y2": {"field": "h4"}}},
        {"mark": {"type": "area", "color": "#008000", "opacity": 0.1}, "encoding": {"x": {"field": "x", "type": "quantitative"}, "y": {"field": "l7", "type": "quantitative"}, "y2": {"field": "h7"}}},
        {"data": {"name": "hmbrR"}, "transform": [{"filter": "datum.s != 'E1'"}], "mark": {"type": "rule", "strokeDash": [1.5, 2], "strokeWidth": 1.5},
         "encoding": {"y": {"field": "f", "type": "quantitative"}, "stroke": {"field": "s", "type": "nominal", "scale": {"domain": ["E1", "E2", "E3", "E4", "E5", "E6", "E7"], "range": ["#0000ff", "#000000", "#bfbf00", "#ff0000", "#00bfbf", "#bf00bf", "#008000"]}, "legend": null}}},
        {"data": {"name": "hmbrR"}, "transform": [{"filter": "datum.s == 'E1'"}], "mark": {"type": "rule", "strokeDash": [6, 3], "strokeWidth": 1.6},
         "encoding": {"y": {"field": "f", "type": "quantitative"}, "stroke": {"field": "s", "type": "nominal", "scale": {"domain": ["E1", "E2", "E3", "E4", "E5", "E6", "E7"], "range": ["#0000ff", "#000000", "#bfbf00", "#ff0000", "#00bfbf", "#bf00bf", "#008000"]}, "legend": null}}},
        {"transform": [{"fold": ["E1", "E2", "E3", "E4", "E5", "E6", "E7"], "as": ["s", "y"]}], "mark": {"type": "line", "strokeWidth": 1.1},
         "encoding": {
           "x": {"field": "x", "type": "quantitative", "scale": {"domain": [0, 300], "nice": false, "zero": false}, "axis": {"title": "Epoch", "values": [0, 100, 200, 300], "format": "d", "gridOpacity": {"condition": {"test": "datum.value == 0 || datum.value == 300", "value": 0}, "value": 1}}},
           "y": {"field": "y", "type": "quantitative", "scale": {"domain": [0, 1], "nice": false}, "axis": {"title": "Median Test Success Rate", "values": [0, 0.2, 0.4, 0.6, 0.8, 1], "format": ".1f"}},
           "stroke": {"field": "s", "type": "nominal", "scale": {"domain": ["E1", "E2", "E3", "E4", "E5", "E6", "E7"], "range": ["#0000ff", "#000000", "#bfbf00", "#ff0000", "#00bfbf", "#bf00bf", "#008000"]}, "legend": null}
         }},
        {"data": {"name": "hmbrR"}, "transform": [{"filter": "isValid(datum.t)"}], "mark": {"type": "rule", "strokeDash": [5, 3], "strokeWidth": 1.3},
         "encoding": {"x": {"field": "t", "type": "quantitative"}, "stroke": {"field": "s", "type": "nominal", "scale": {"domain": ["E1", "E2", "E3", "E4", "E5", "E6", "E7"], "range": ["#0000ff", "#000000", "#bfbf00", "#ff0000", "#00bfbf", "#bf00bf", "#008000"]}, "legend": null}}}
      ]
    },
    {
      "title": "HandManipulatePenRotate (HMPR)",
      "width": 970, "height": 247,
      "data": {"name": "hmpr"},
      "layer": [
        {"mark": {"type": "area", "color": "#0000ff", "opacity": 0.09}, "encoding": {"x": {"field": "x", "type": "quantitative"}, "y": {"field": "l1", "type": "quantitative"}, "y2": {"field": "h1"}}},
        {"mark": {"type": "area", "color": "#ff0000", "opacity": 0.07}, "encoding": {"x": {"field": "x", "type": "quantitative"}, "y": {"field": "l4", "type": "quantitative"}, "y2": {"field": "h4"}}},
        {"mark": {"type": "area", "color": "#008000", "opacity": 0.1}, "encoding": {"x": {"field": "x", "type": "quantitative"}, "y": {"field": "l7", "type": "quantitative"}, "y2": {"field": "h7"}}},
        {"data": {"name": "hmprR"}, "transform": [{"filter": "datum.s != 'E1'"}], "mark": {"type": "rule", "strokeDash": [1.5, 2], "strokeWidth": 1.5},
         "encoding": {"y": {"field": "f", "type": "quantitative"}, "stroke": {"field": "s", "type": "nominal", "scale": {"domain": ["E1", "E2", "E3", "E4", "E5", "E6", "E7"], "range": ["#0000ff", "#000000", "#bfbf00", "#ff0000", "#00bfbf", "#bf00bf", "#008000"]}, "legend": null}}},
        {"data": {"name": "hmprR"}, "transform": [{"filter": "datum.s == 'E1'"}], "mark": {"type": "rule", "strokeDash": [6, 3], "strokeWidth": 1.6},
         "encoding": {"y": {"field": "f", "type": "quantitative"}, "stroke": {"field": "s", "type": "nominal", "scale": {"domain": ["E1", "E2", "E3", "E4", "E5", "E6", "E7"], "range": ["#0000ff", "#000000", "#bfbf00", "#ff0000", "#00bfbf", "#bf00bf", "#008000"]}, "legend": null}}},
        {"transform": [{"fold": ["E1", "E2", "E3", "E4", "E5", "E6", "E7"], "as": ["s", "y"]}], "mark": {"type": "line", "strokeWidth": 1.1},
         "encoding": {
           "x": {"field": "x", "type": "quantitative", "scale": {"domain": [0, 1000], "nice": false, "zero": false}, "axis": {"title": "Epoch", "values": [0, 100, 200, 300, 400, 500, 600, 700, 800, 900, 1000], "format": "d", "gridOpacity": {"condition": {"test": "datum.value == 0 || datum.value == 1000", "value": 0}, "value": 1}}},
           "y": {"field": "y", "type": "quantitative", "scale": {"domain": [0, 1], "nice": false}, "axis": {"title": "Median Test Success Rate", "values": [0, 0.2, 0.4, 0.6, 0.8, 1], "format": ".1f"}},
           "stroke": {"field": "s", "type": "nominal", "scale": {"domain": ["E1", "E2", "E3", "E4", "E5", "E6", "E7"], "range": ["#0000ff", "#000000", "#bfbf00", "#ff0000", "#00bfbf", "#bf00bf", "#008000"]}, "legend": null}
         }},
        {"data": {"name": "hmprR"}, "transform": [{"filter": "isValid(datum.t)"}], "mark": {"type": "rule", "strokeDash": [5, 3], "strokeWidth": 1.3},
         "encoding": {"x": {"field": "t", "type": "quantitative"}, "stroke": {"field": "s", "type": "nominal", "scale": {"domain": ["E1", "E2", "E3", "E4", "E5", "E6", "E7"], "range": ["#0000ff", "#000000", "#bfbf00", "#ff0000", "#00bfbf", "#bf00bf", "#008000"]}, "legend": null}}}
      ]
    },
    {
      "title": "HandManipulateBlock (HMB)",
      "width": 970, "height": 247,
      "data": {"name": "hmb"},
      "layer": [
        {"mark": {"type": "area", "color": "#0000ff", "opacity": 0.09}, "encoding": {"x": {"field": "x", "type": "quantitative"}, "y": {"field": "l1", "type": "quantitative"}, "y2": {"field": "h1"}}},
        {"mark": {"type": "area", "color": "#ff0000", "opacity": 0.07}, "encoding": {"x": {"field": "x", "type": "quantitative"}, "y": {"field": "l4", "type": "quantitative"}, "y2": {"field": "h4"}}},
        {"mark": {"type": "area", "color": "#008000", "opacity": 0.1}, "encoding": {"x": {"field": "x", "type": "quantitative"}, "y": {"field": "l7", "type": "quantitative"}, "y2": {"field": "h7"}}},
        {"data": {"name": "hmbR"}, "transform": [{"filter": "datum.s != 'E1'"}], "mark": {"type": "rule", "strokeDash": [1.5, 2], "strokeWidth": 1.5},
         "encoding": {"y": {"field": "f", "type": "quantitative"}, "stroke": {"field": "s", "type": "nominal", "scale": {"domain": ["E1", "E2", "E3", "E4", "E5", "E6", "E7"], "range": ["#0000ff", "#000000", "#bfbf00", "#ff0000", "#00bfbf", "#bf00bf", "#008000"]}, "legend": null}}},
        {"data": {"name": "hmbR"}, "transform": [{"filter": "datum.s == 'E1'"}], "mark": {"type": "rule", "strokeDash": [6, 3], "strokeWidth": 1.6},
         "encoding": {"y": {"field": "f", "type": "quantitative"}, "stroke": {"field": "s", "type": "nominal", "scale": {"domain": ["E1", "E2", "E3", "E4", "E5", "E6", "E7"], "range": ["#0000ff", "#000000", "#bfbf00", "#ff0000", "#00bfbf", "#bf00bf", "#008000"]}, "legend": null}}},
        {"transform": [{"fold": ["E1", "E2", "E3", "E4", "E5", "E6", "E7"], "as": ["s", "y"]}], "mark": {"type": "line", "strokeWidth": 1.1},
         "encoding": {
           "x": {"field": "x", "type": "quantitative", "scale": {"domain": [0, 2000], "nice": false, "zero": false}, "axis": {"title": "Epoch", "values": [0, 100, 200, 300, 400, 500, 600, 700, 800, 900, 1000, 1100, 1200, 1300, 1400, 1500, 1600, 1700, 1800, 1900, 2000], "format": "d", "gridOpacity": {"condition": {"test": "datum.value == 0 || datum.value == 2000", "value": 0}, "value": 1}}},
           "y": {"field": "y", "type": "quantitative", "scale": {"domain": [0, 1], "nice": false}, "axis": {"title": "Median Test Success Rate", "values": [0, 0.2, 0.4, 0.6, 0.8, 1], "format": ".1f"}},
           "stroke": {"field": "s", "type": "nominal", "scale": {"domain": ["E1", "E2", "E3", "E4", "E5", "E6", "E7"], "range": ["#0000ff", "#000000", "#bfbf00", "#ff0000", "#00bfbf", "#bf00bf", "#008000"]}, "legend": null}
         }},
        {"data": {"name": "hmbR"}, "transform": [{"filter": "isValid(datum.t)"}], "mark": {"type": "rule", "strokeDash": [5, 3], "strokeWidth": 1.3},
         "encoding": {"x": {"field": "t", "type": "quantitative"}, "stroke": {"field": "s", "type": "nominal", "scale": {"domain": ["E1", "E2", "E3", "E4", "E5", "E6", "E7"], "range": ["#0000ff", "#000000", "#bfbf00", "#ff0000", "#00bfbf", "#bf00bf", "#008000"]}, "legend": null}}}
      ]
    }
  ]
}
